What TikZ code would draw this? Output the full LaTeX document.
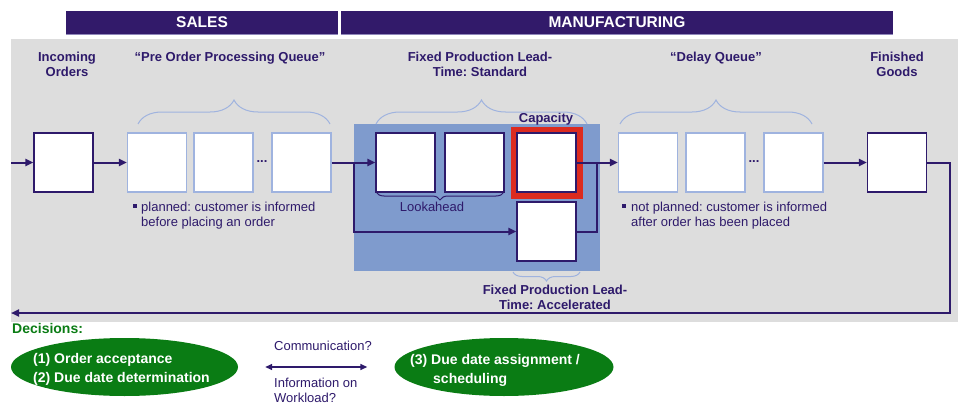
\documentclass[tikz,border=0pt]{standalone}
\usepackage{fontspec}
\setmainfont{Liberation Sans}
\usetikzlibrary{arrows.meta,decorations.pathreplacing,shapes.geometric}
\frenchspacing

\definecolor{ink}{HTML}{2E1A6B}
\definecolor{bar}{HTML}{321A6A}
\definecolor{baredge}{HTML}{9088BA}
\definecolor{qline}{HTML}{9FB3DF}
\definecolor{lagoon}{HTML}{7F9BCD}
\definecolor{panel}{HTML}{DDDDDD}
\definecolor{alarm}{HTML}{DC2B1F}
\definecolor{leaf}{HTML}{0A7C14}

\tikzset{
  darkbox/.style={draw=ink, line width=1.2pt, fill=white, minimum size=59pt, inner sep=0pt},
  queuebox/.style={draw=qline, line width=1.2pt, fill=white, minimum size=59pt, inner sep=0pt},
  flow/.style={draw=ink, line width=2pt, -{Triangle[length=8pt,width=7pt]}},
  link/.style={draw=ink, line width=2pt},
  curly/.style={decorate, decoration={brace, amplitude=#1}, draw=qline, line width=1pt},
  title/.style={font=\fontsize{13}{15}\selectfont\bfseries, text=ink, align=center, inner sep=0pt},
  note/.style={font=\fontsize{13}{15}\selectfont, text=ink, align=left, inner sep=0pt},
  header/.style={fill=bar, text=white, font=\fontsize{15.5}{18}\selectfont\bfseries,
                 minimum height=23pt, inner sep=0pt},
  decision/.style={ellipse, fill=leaf, inner sep=0pt},
  dectext/.style={font=\fontsize{14}{19}\selectfont\bfseries, text=white, align=left, inner sep=0pt},
}

\begin{document}
\begin{tikzpicture}[x=1pt,y=-1pt]
\useasboundingbox (0,0) rectangle (958,404);

% department headers
\node[header, minimum width=272pt] (sales) at (202,22.5) {SALES};
\node[header, minimum width=552pt] (mfg) at (617,22.5) {MANUFACTURING};
\draw[baredge, line width=1pt] ([yshift=-0.5pt]sales.south west) -- ([yshift=-0.5pt]sales.south east);
\draw[baredge, line width=1pt] ([yshift=-0.5pt]mfg.south west) -- ([yshift=-0.5pt]mfg.south east);

% process panel and production area
\fill[panel] (11,39) rectangle (958,322);
\fill[lagoon] (354,124) rectangle (600,271);

% column titles (anchored on the baseline of their last line)
\node[title, anchor=base] (tin) at (67,77) {Incoming\\Orders};
\node[title, anchor=base] (tpre) at (230,62) {“Pre Order Processing Queue”};
\node[title, anchor=base] (tstd) at (480,77) {Fixed Production Lead-\\Time: Standard};
\node[title, anchor=base] (tdel) at (716,62) {“Delay Queue”};
\node[title, anchor=base] (tfin) at (897,77) {Finished\\Goods};
\node[title, anchor=base] (tcap) at (546,122) {Capacity};
\node[title, anchor=base] (tacc) at (555,309) {Fixed Production Lead-\\Time: Accelerated};

% boxes
\node[darkbox] (io) at (63.5,162.5) {};
\node[queuebox] (q1) at (157,162.5) {};
\node[queuebox] (q2) at (223.5,162.5) {};
\node[queuebox] (q3) at (301.5,162.5) {};
\node[title] (dots1) at (262,162) {...};
\node[darkbox] (la1) at (405.5,162.5) {};
\node[darkbox] (la2) at (474.5,162.5) {};
\node[draw=alarm, line width=6pt, minimum size=66pt, inner sep=0pt] (capframe) at (546.5,162.5) {};
\node[darkbox] (cap) at (546.5,162.5) {};
\node[darkbox] (acc) at (546.5,231.5) {};
\node[queuebox] (d1) at (648,162.5) {};
\node[queuebox] (d2) at (715.5,162.5) {};
\node[queuebox] (d3) at (793.5,162.5) {};
\node[title] (dots2) at (754,162) {...};
\node[darkbox] (fg) at (897,162.5) {};

% braces
\draw[curly=24pt] (138,124) -- (330,124);
\draw[curly=24pt] (376,124) -- (587,124);
\draw[curly=24pt] (620,124) -- (812,124);
\draw[curly=8pt, draw=ink] (504,192) -- (376,192);
\draw[curly=9pt] (580,272) -- (513,272);
\node[note, anchor=base] (look) at (432,211) {Lookahead};

% notes
\fill[ink] (133,204) rectangle (137,208);
\node[note, anchor=base west] (plan) at (141,226) {planned: customer is informed\\before placing an order};
\fill[ink] (622,204) rectangle (626,208);
\node[note, anchor=base west] (noplan) at (631,226) {not planned: customer is informed\\after order has been placed};

% material flow
\coordinate (entry) at (11,162.5);
\coordinate (split) at (354,162.5);
\coordinate (merge) at (597,162.5);
\coordinate (turn) at (950,313);
\coordinate (back) at (11,313);
\draw[flow] (entry) -- (io.west);
\draw[flow] (io.east) -- (q1.west);
\draw[flow] (q3.east) -- (la1.west);
\draw[flow] (split) |- (acc.west);
\draw[link] (acc.east) -| (merge);
\draw[flow] (cap.east) -- (d1.west);
\draw[flow] (d3.east) -- (fg.west);
\draw[flow] (fg.east) -| (turn) -- (back);

% decisions
\node[font=\fontsize{14}{17}\selectfont\bfseries, text=leaf, anchor=base west, inner sep=0pt] (dhead) at (12,333) {Decisions:};
\node[decision, minimum width=227pt, minimum height=58pt] (dec1) at (124.5,367) {};
\node[decision, minimum width=219pt, minimum height=58pt] (dec2) at (504,367) {};
\node[dectext, anchor=base west] (dtx1) at (33,382) {(1) Order acceptance\\(2) Due date determination};
\node[dectext, anchor=base west] (dtx2) at (410,383) {(3) Due date assignment /\\\hspace*{23pt}scheduling};
\draw[draw=ink, line width=1.5pt, {Triangle[length=7pt,width=6pt]}-{Triangle[length=7pt,width=6pt]}]
  ([xshift=27pt]dec1.east) -- ([xshift=-27pt]dec2.west);
\node[note, anchor=base west] (comm) at (274,350) {Communication?};
\node[note, anchor=base west] (info) at (274,402) {Information on\\Workload?};
\end{tikzpicture}
\end{document}
